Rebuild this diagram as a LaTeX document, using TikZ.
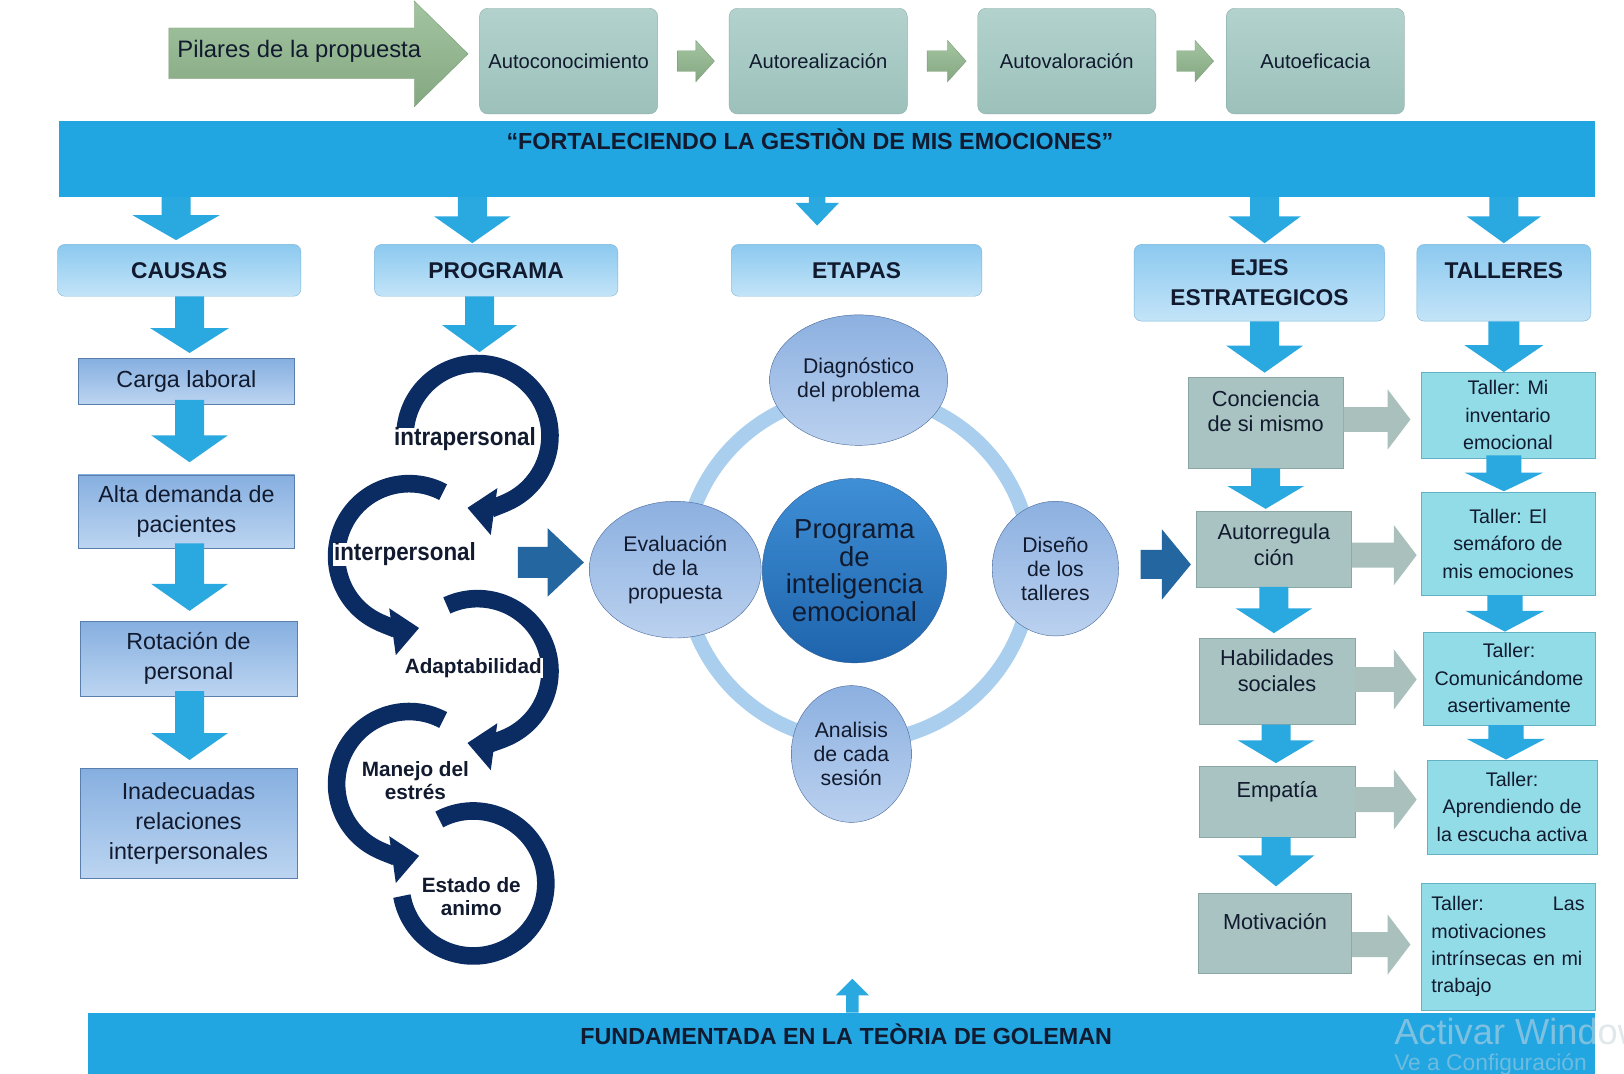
\documentclass[tikz,border=0pt]{standalone}
\usepackage{fontspec}
\setmainfont{Liberation Sans}
\newfontfamily\narrow[FakeStretch=0.9]{Liberation Sans}
\usetikzlibrary{arrows.meta,shapes.geometric,calc}

\definecolor{bannerblue}{HTML}{22A6E1}
\definecolor{arrowblue}{HTML}{2AA8E0}
\definecolor{hdrtop}{HTML}{8CC9EF}
\definecolor{hdrbot}{HTML}{C3E4F8}
\definecolor{hdredge}{HTML}{7DB6DA}
\definecolor{causetop}{HTML}{86AFE0}
\definecolor{causebot}{HTML}{BCD5F1}
\definecolor{causeedge}{HTML}{5A7FAD}
\definecolor{pilartop}{HTML}{B3D2CD}
\definecolor{pilarbot}{HTML}{9CC1BA}
\definecolor{pilaredge}{HTML}{8FB0AA}
\definecolor{greentop}{HTML}{A3C4A0}
\definecolor{greenbot}{HTML}{84A882}
\definecolor{greenedge}{HTML}{7C9E79}
\definecolor{navy}{HTML}{0B2B63}
\definecolor{darkarrow}{HTML}{24669F}
\definecolor{ringblue}{HTML}{A9CEEE}
\definecolor{elltop}{HTML}{8CB0E0}
\definecolor{ellbot}{HTML}{BBD1EF}
\definecolor{elledge}{HTML}{4B6C9C}
\definecolor{coretop}{HTML}{3F8FD6}
\definecolor{corebot}{HTML}{1E64AC}
\definecolor{coreedge}{HTML}{2E5C96}
\definecolor{ejesfill}{HTML}{A8C3C1}
\definecolor{ejesedge}{HTML}{8AA7A4}
\definecolor{grayarrow}{HTML}{A9C0BD}
\definecolor{tallerfill}{HTML}{92DCE8}
\definecolor{talleredge}{HTML}{62B2C4}
\definecolor{textdark}{HTML}{111A2E}
\definecolor{noticegray}{HTML}{C9D6DE}

% vertical block arrow: fill, from, to, half shaft, half head, head length
\newcommand\varrow[6]{\fill[#1] let \p1=#2, \p2=#3 in
  (\x1-#4,\y1) -- (\x1+#4,\y1) -- (\x1+#4,\y2+#6) -- (\x1+#5,\y2+#6) -- (\x1,\y2)
  -- (\x1-#5,\y2+#6) -- (\x1-#4,\y2+#6) -- cycle;}
% horizontal block arrow: fill, from, to, half shaft, half head, head length
\newcommand\harrow[6]{\path[#1] let \p1=#2, \p2=#3 in
  (\x1,\y1-#4) -- (\x1,\y1+#4) -- (\x2-#6,\y1+#4) -- (\x2-#6,\y1+#5) -- (\x2,\y1)
  -- (\x2-#6,\y1-#5) -- (\x2-#6,\y1-#4) -- cycle;}

\begin{document}
\begin{tikzpicture}[x=1pt,y=-1pt,
  every node/.style={text=textdark},
  pilarbox/.style={draw=pilaredge, rounded corners=8pt, top color=pilartop, bottom color=pilarbot,
    minimum width=172pt, minimum height=102pt, inner sep=0pt, font=\fontsize{19.5}{22}\selectfont},
  hdr/.style={draw=hdredge, rounded corners=7pt, top color=hdrtop, bottom color=hdrbot, inner sep=0pt,
    align=center, font=\bfseries\fontsize{22}{29}\selectfont},
  causebox/.style={draw=causeedge, top color=causetop, bottom color=causebot, minimum width=209pt,
    inner sep=0pt, align=center, font=\fontsize{22.5}{29}\selectfont},
  ejesbox/.style={draw=ejesedge, fill=ejesfill, minimum width=150pt, inner sep=0pt},
  ejestext/.style={align=center, font=\fontsize{21}{25}\selectfont},
  tallerbox/.style={draw=talleredge, fill=tallerfill, inner sep=0pt, align=center,
    font=\fontsize{19}{26.5}\selectfont},
  ell/.style={ellipse, draw=elledge, top color=elltop, bottom color=ellbot, inner sep=0pt,
    align=center, font=\fontsize{20.5}{23}\selectfont},
  loopline/.style={draw=navy, line width=17pt, -{Triangle[width=44pt,length=26pt]}},
  loopend/.style={draw=navy, line width=17pt},
  looplabel/.style={font=\bfseries\fontsize{20}{22}\selectfont, align=center, inner sep=0pt},
  loopnarrow/.style={font=\bfseries\narrow\fontsize{24}{22}\selectfont, inner sep=0pt, fill=white, inner xsep=1pt},
  bandtitle/.style={font=\bfseries\fontsize{22.5}{24}\selectfont, inner sep=0pt}
]
\useasboundingbox (0,0) rectangle (1568,1036);
\clip (0,0) rectangle (1568,1036);
\fill[white] (0,0) rectangle (1568,1036);

% ---- pillars row ----
\shade[top color=greentop, bottom color=greenbot, draw=greenedge]
  (163,27) -- (400,27) -- (400,1) -- (452,52) -- (400,103) -- (400,76) -- (163,76) -- cycle;
\node[font=\fontsize{23}{25}\selectfont, inner sep=0pt] (pilares) at (289,50) {Pilares de la propuesta};

\node[pilarbox] (auto1) at (549,59)  {Autoconocimiento};
\node[pilarbox] (auto2) at (790,59)  {Autorealización};
\node[pilarbox] (auto3) at (1030,59) {Autovaloración};
\node[pilarbox] (auto4) at (1270,59) {Autoeficacia};
\harrow{top color=greentop, bottom color=greenbot, draw=greenedge}{($(auto1.east)+(19,0)$)}{($(auto2.west)+(-14,0)$)}{10pt}{20pt}{18pt}
\harrow{top color=greentop, bottom color=greenbot, draw=greenedge}{($(auto2.east)+(19,0)$)}{($(auto3.west)+(-11,0)$)}{10pt}{20pt}{18pt}
\harrow{top color=greentop, bottom color=greenbot, draw=greenedge}{($(auto3.east)+(20,0)$)}{($(auto4.west)+(-12,0)$)}{10pt}{20pt}{18pt}

% ---- top banner ----
\node[fill=bannerblue, minimum width=1483pt, minimum height=73pt, inner sep=0pt] (banner) at (798.5,153.5) {};
\node[bandtitle] (bannertitle) at (782,134) {“FORTALECIENDO LA GESTIÒN DE MIS EMOCIONES”};

% ---- column headers ----
\node[hdr, minimum width=235pt, minimum height=50pt] (causas) at (173,261) {CAUSAS};
\node[hdr, minimum width=235pt, minimum height=50pt] (programa) at (479,261) {PROGRAMA};
\node[hdr, minimum width=242pt, minimum height=50pt] (etapas) at (827,261) {ETAPAS};
\node[hdr, minimum width=242pt, minimum height=74pt] (ejes) at (1216,273) {EJES\\ESTRATEGICOS};
\node[hdr, minimum width=168pt, minimum height=74pt] (talleres) at (1452,273) {};
\node[font=\bfseries\fontsize{22}{29}\selectfont, inner sep=0pt] (tallerest) at (1452,261) {TALLERES};

\varrow{arrowblue}{($(causas.north |- banner.south)+(-3,0)$)}{($(causas.north)+(-3,-4)$)}{14pt}{42pt}{24pt}
\varrow{arrowblue}{($(programa.north |- banner.south)+(-23,0)$)}{($(programa.north)+(-23,-1)$)}{14pt}{37pt}{26pt}
\varrow{arrowblue}{($(etapas.north |- banner.south)+(-38,0)$)}{($(etapas.north)+(-38,-18)$)}{8pt}{21pt}{22pt}
\varrow{arrowblue}{($(ejes.north |- banner.south)+(5,0)$)}{($(ejes.north)+(5,-1)$)}{14pt}{35pt}{26pt}
\varrow{arrowblue}{(talleres.north |- banner.south)}{($(talleres.north)+(0,-1)$)}{14pt}{36pt}{26pt}

% ---- causes ----
\node[causebox, minimum height=44pt] (carga) at (180,368) {Carga laboral};
\node[causebox, minimum height=71pt] (alta) at (180,494) {Alta demanda de\\pacientes};
\node[causebox, minimum height=72pt] (rotacion) at (182,636) {Rotación de\\personal};
\node[causebox, minimum height=106pt] (inadecuadas) at (182,795) {Inadecuadas\\relaciones\\interpersonales};
\varrow{arrowblue}{($(causas.south)+(10,0)$)}{($(carga.north)+(3,-5)$)}{14pt}{38pt}{24pt}
\varrow{arrowblue}{($(carga.south)+(3,-4)$)}{($(alta.north)+(3,-12)$)}{14pt}{37pt}{26pt}
\varrow{arrowblue}{($(alta.south)+(3,-5)$)}{($(rotacion.north)+(1,-10)$)}{14pt}{37pt}{26pt}
\varrow{arrowblue}{($(rotacion.south)+(1,-5)$)}{($(inadecuadas.north)+(1,-8)$)}{14pt}{37pt}{26pt}

% ---- programme loops ----
\coordinate (l1) at (461,421);
\coordinate (l2) at (395,537);
\coordinate (l3) at (461,648);
\coordinate (l4) at (395,757);
\coordinate (l5) at (457,853);
\coordinate (loopstart) at (463,340);
\varrow{arrowblue}{($(programa.south)+(-16,0)$)}{(loopstart)}{14pt}{36pt}{26pt}

\draw[loopline] ($(l1)+(178:70pt)$) arc[start angle=178, end angle=-98, radius=70pt];
\draw[loopline] ($(l2)+(62:70pt)$) arc[start angle=62, end angle=278, radius=70pt];
\draw[loopline] ($(l3)+(115:70pt)$) arc[start angle=115, end angle=-98, radius=70pt];
\draw[loopline] ($(l4)+(62:70pt)$) arc[start angle=62, end angle=278, radius=70pt];
\draw[loopend]  ($(l5)+(118:70pt)$) arc[start angle=118, end angle=-170, radius=70pt];

\node[loopnarrow] (intra) at (449,424) {intrapersonal};
\node[loopnarrow] (inter) at (391,535) {interpersonal};
\node[looplabel, fill=white, inner xsep=1pt] (adapt) at (457,645) {Adaptabilidad};
\node[looplabel] (manejo) at (401,754) {Manejo del\\estrés};
\node[looplabel] (estado) at (455,866) {Estado de\\animo};

% ---- stages ----
\draw[ringblue, line width=14pt] (828,548) circle[radius=168pt];
\node[ell, minimum width=172pt, minimum height=126pt] (diag) at (829,367) {Diagnóstico\\del problema};
\node[ell, minimum width=166pt, minimum height=132pt] (eval) at (652,550) {Evaluación\\de la\\propuesta};
\node[ell, minimum width=122pt, minimum height=130pt] (dise) at (1019,549) {Diseño\\de los\\talleres};
\node[ell, minimum width=116pt, minimum height=132pt] (anal) at (822,728) {Analisis\\de cada\\sesión};
\node[circle, draw=coreedge, top color=coretop, bottom color=corebot, minimum size=178pt, inner sep=0pt,
  align=center, font=\fontsize{26.5}{27}\selectfont] (core) at (825,551) {Programa\\de\\inteligencia\\emocional};

\coordinate (progout) at (500,543);
\harrow{fill=darkarrow}{(progout)}{($(eval.west)+(-5,-7)$)}{15pt}{33pt}{35pt}

% ---- strategic axes ----
\node[ejesbox, minimum height=88pt] (conc) at (1222,408) {};
\node[ejesbox, minimum height=73pt] (autor) at (1230,530) {};
\node[ejesbox, minimum height=83pt] (habil) at (1233,658) {};
\node[ejesbox, minimum height=68pt] (empat) at (1233,774) {};
\node[ejesbox, minimum height=78pt, minimum width=148pt] (motiv) at (1231,901) {};
\node[ejestext] (conct) at (1222,397) {Conciencia\\de si mismo};
\node[ejestext] (autort) at (1230,526) {Autorregula\\ción};
\node[ejestext] (habilt) at (1233,648) {Habilidades\\sociales};
\node[ejestext] (empatt) at (1233,764) {Empatía};
\node[ejestext] (motivt) at (1231,890) {Motivación};

\harrow{fill=darkarrow}{($(dise.east)+(21,-4)$)}{($(autor.west)+(-5,0)$)}{14pt}{34pt}{28pt}

\varrow{arrowblue}{($(ejes.south)+(5,0)$)}{($(conc.north)+(-1,-4)$)}{14pt}{37pt}{26pt}
\varrow{arrowblue}{($(conc.south)+(0,0)$)}{($(autor.north)+(-8,-2)$)}{14pt}{37pt}{22pt}
\varrow{arrowblue}{($(autor.south)+(0,0)$)}{($(habil.north)+(-3,-5)$)}{14pt}{37pt}{24pt}
\varrow{arrowblue}{($(habil.south)+(-1,0)$)}{($(empat.north)+(-1,-3)$)}{14pt}{37pt}{22pt}
\varrow{arrowblue}{($(empat.south)+(-1,0)$)}{($(motiv.north)+(1,-6)$)}{14pt}{37pt}{30pt}

% ---- workshops ----
\node[tallerbox, minimum width=168pt, minimum height=83pt] (t1) at (1456,401) {Taller: Mi\\inventario\\emocional};
\node[tallerbox, minimum width=168pt, minimum height=99pt] (t2) at (1456,525) {Taller: El\\semáforo de\\mis emociones};
\node[tallerbox, minimum width=166pt, minimum height=90pt] (t3) at (1457,655) {Taller:\\Comunicándome\\asertivamente};
\node[tallerbox, minimum width=164pt, minimum height=91pt] (t4) at (1460,779) {Taller:\\Aprendiendo de\\la escucha activa};
\node[tallerbox, minimum width=168pt, minimum height=122pt, text width=148pt, align=left] (t5) at (1456,914)
  {Taller:\hfill Las\\motivaciones\\intrínsecas en mi\\trabajo};

\varrow{arrowblue}{($(talleres.south)+(0,0)$)}{($(t1.north)+(-4,0)$)}{15pt}{38pt}{26pt}
\varrow{arrowblue}{($(t1.south)+(-4,-3)$)}{($(t2.north)+(-4,-1)$)}{17pt}{38pt}{18pt}
\varrow{arrowblue}{($(t2.south)+(-3,0)$)}{($(t3.north)+(-4,0)$)}{17pt}{38pt}{20pt}
\varrow{arrowblue}{($(t3.south)+(-3,0)$)}{($(t4.north)+(-6,0)$)}{17pt}{38pt}{20pt}

\harrow{fill=grayarrow}{($(conc.east)+(0,-3)$)}{($(t1.west)+(-10,0)$)}{12pt}{29pt}{22pt}
\harrow{fill=grayarrow}{($(autor.east)+(0,6)$)}{($(t2.west)+(-4,0)$)}{12pt}{29pt}{22pt}
\harrow{fill=grayarrow}{($(habil.east)+(0,-2)$)}{($(t3.west)+(-6,0)$)}{12pt}{29pt}{22pt}
\harrow{fill=grayarrow}{($(empat.east)+(0,-2)$)}{($(t4.west)+(-10,0)$)}{12pt}{29pt}{22pt}
\harrow{fill=grayarrow}{($(motiv.east)+(0,11)$)}{($(t5.west)+(-10,0)$)}{12pt}{29pt}{22pt}

% ---- foundation banner ----
\node[fill=bannerblue, minimum width=1455pt, minimum height=62pt, inner sep=0pt] (base) at (812.5,1009) {};
\node[bandtitle] (basetitle) at (817,999) {FUNDAMENTADA EN LA TEÒRIA DE GOLEMAN};
\coordinate (basetip) at (823,945);
\fill[arrowblue] let \p1=(base.north -| basetip), \p2=(basetip) in
  (\x1-6pt,\y1) -- (\x1+6pt,\y1) -- (\x1+6pt,\y2-16pt) -- (\x1+16pt,\y2-16pt) -- (\x2,\y2)
  -- (\x1-16pt,\y2-16pt) -- (\x1-6pt,\y2-16pt) -- cycle;

% ---- system notice (runs past the right edge) ----
\node[anchor=base west, inner sep=0pt, text=noticegray, opacity=0.55, font=\fontsize{35}{37}\selectfont]
  (notice1) at (1346,1008) {Activar Windows};
\node[anchor=base west, inner sep=0pt, text=noticegray, opacity=0.45, font=\fontsize{22}{24}\selectfont]
  (notice2) at (1346,1034) {Ve a Configuración};
\end{tikzpicture}
\end{document}
